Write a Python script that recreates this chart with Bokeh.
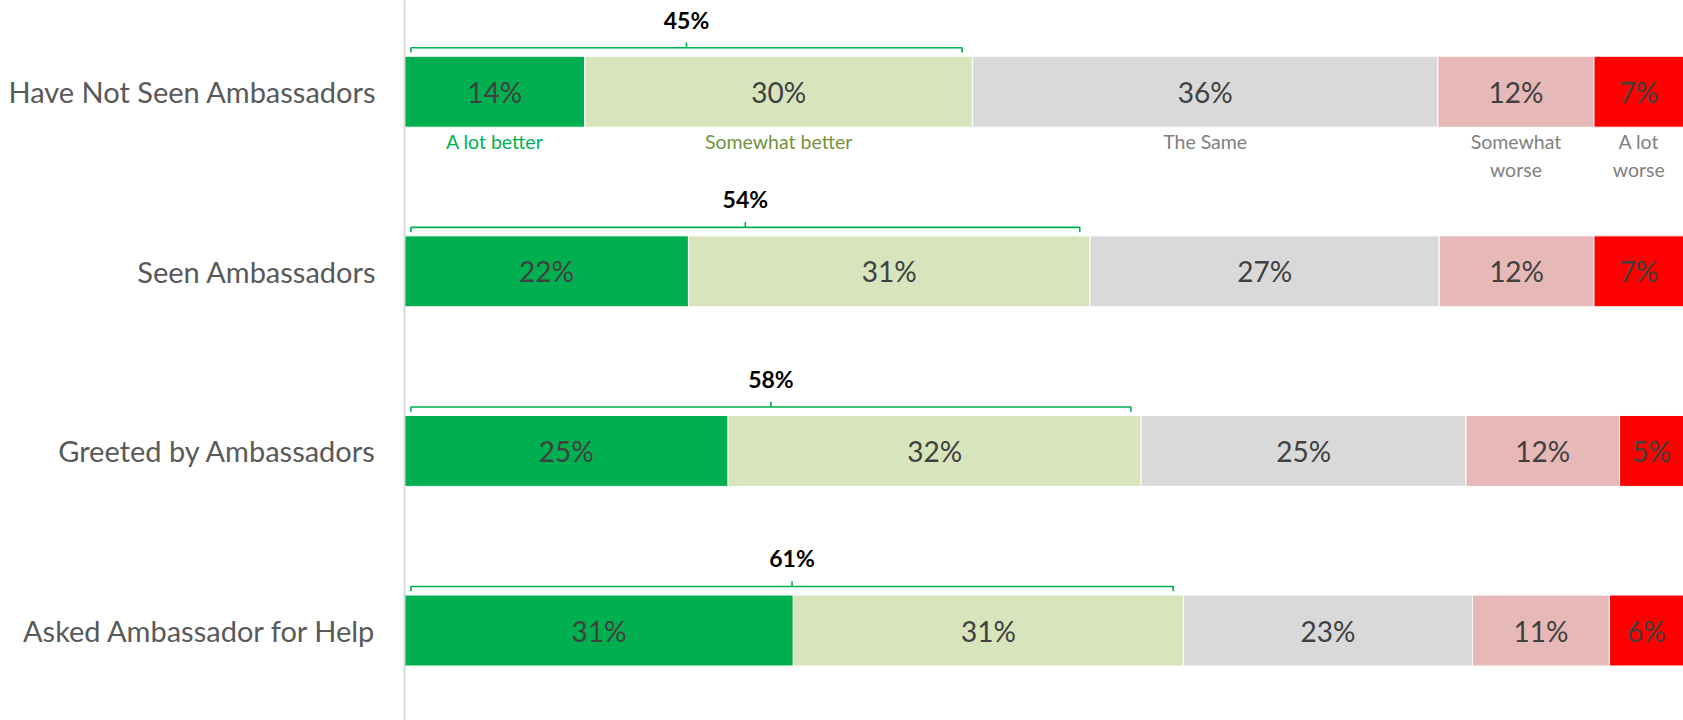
import numpy as np
from bokeh.plotting import figure
from bokeh.models import Range1d, FixedTicker, ColumnDataSource
from bokeh.core.properties import value
from bokeh.embed import file_html
from bokeh.resources import INLINE

# ---- data ----
categories = ["Have Not Seen Ambassadors", "Seen Ambassadors",
              "Greeted by Ambassadors", "Asked Ambassador for Help"]
levels = ["A lot better", "Somewhat better", "The Same", "Somewhat worse", "A lot worse"]
level_names = ["A lot better", "Somewhat better", "The Same", "Somewhat\nworse", "A lot\nworse"]

a_lot_better = [14.1, 22.2, 25.3, 30.4]
somewhat_better = [30.3, 31.4, 32.3, 30.5]
the_same = [36.4, 27.3, 25.4, 22.6]
somewhat_worse = [12.2, 12.1, 12.0, 10.7]
a_lot_worse = [7.0, 7.0, 5.0, 5.8]

lbl_a_lot_better = ["14%", "22%", "25%", "31%"]
lbl_somewhat_better = ["30%", "31%", "32%", "31%"]
lbl_the_same = ["36%", "27%", "25%", "23%"]
lbl_somewhat_worse = ["12%", "12%", "12%", "11%"]
lbl_a_lot_worse = ["7%", "7%", "5%", "6%"]
better_total_labels = ["45%", "54%", "58%", "61%"]

# ---- styles ----
colors = ["#00B050", "#D8E4BC", "#D9D9D9", "#E6B8B7", "#FF0000"]
name_colors = ["#00B050", "#76923C", "#808080", "#808080", "#808080"]
FONT = value("Lato")

series = [a_lot_better, somewhat_better, the_same, somewhat_worse, a_lot_worse]
labels = [lbl_a_lot_better, lbl_somewhat_better, lbl_the_same, lbl_somewhat_worse, lbl_a_lot_worse]

p = figure(width=1683, height=720, output_backend="svg", toolbar_location=None,
           x_range=Range1d(0, 100), y_range=Range1d(3.501, -0.508),
           x_axis_location=None)
p.min_border_left = 404
p.min_border_right = 0
p.min_border_top = 0
p.min_border_bottom = 0
p.outline_line_color = None
p.xgrid.visible = False
p.ygrid.visible = False
p.background_fill_color = "white"
p.border_fill_color = "white"

yax = p.yaxis[0]
yax.ticker = FixedTicker(ticks=[0, 1, 2, 3])
yax.major_label_overrides = {i: c for i, c in enumerate(categories)}
yax.major_tick_line_color = None
yax.minor_tick_line_color = None
yax.axis_line_color = "#D9D9D9"
yax.axis_line_width = 2
yax.major_label_text_font = "Lato"
yax.major_label_text_font_size = "29px"
yax.major_label_text_color = "#595959"
yax.major_label_standoff = 22

rows = np.arange(len(categories))
bar_h = 0.395
left = np.zeros(len(categories))
for vals, lbls, col in zip(series, labels, colors):
    v = np.array(vals)
    src = ColumnDataSource(dict(y=rows, left=left.copy(), right=left + v,
                                xc=left + v / 2, lbl=lbls))
    p.hbar(y="y", left="left", right="right", height=bar_h, source=src,
           fill_color=col, line_color="white", line_width=1)
    p.text(x="xc", y="y", text="lbl", source=src, text_font=FONT,
           text_font_size="28px", text_color="#404040",
           text_align="center", text_baseline="middle")
    left = left + v

# level names under the first row
row0_left = 0.0
name_x = []
for vals in series:
    name_x.append(row0_left + vals[0] / 2)
    row0_left += vals[0]
for x, nm, c in zip(name_x, level_names, name_colors):
    p.text(x=[x], y=[0 + 0.213], text=[nm], text_font=FONT, text_font_size="19.5px",
           text_color=c, text_align="center", text_baseline="top",
           text_line_height=1.22)

# brackets over "better" totals
better = np.array(a_lot_better) + np.array(somewhat_better)
x0 = np.full(len(rows), 0.5)
x1 = better - 0.8
yb = rows - 0.245
yd = rows - 0.218
xs = [[a, a, b, b] for a, b in zip(x0, x1)]
ys = [[d, t, t, d] for t, d in zip(yb, yd)]
p.multi_line(xs=xs, ys=ys, line_color="#00B050", line_width=1.6)
xc = (x0 + x1) / 2
p.segment(x0=xc, y0=yb, x1=xc, y1=rows - 0.274, line_color="#00B050", line_width=1.6)
p.text(x=xc, y=rows - 0.402, text=better_total_labels, text_font=FONT,
       text_font_size="23px", text_font_style="bold", text_color="#000000",
       text_align="center", text_baseline="middle")

open("out.html", "w").write(file_html(p, INLINE))
